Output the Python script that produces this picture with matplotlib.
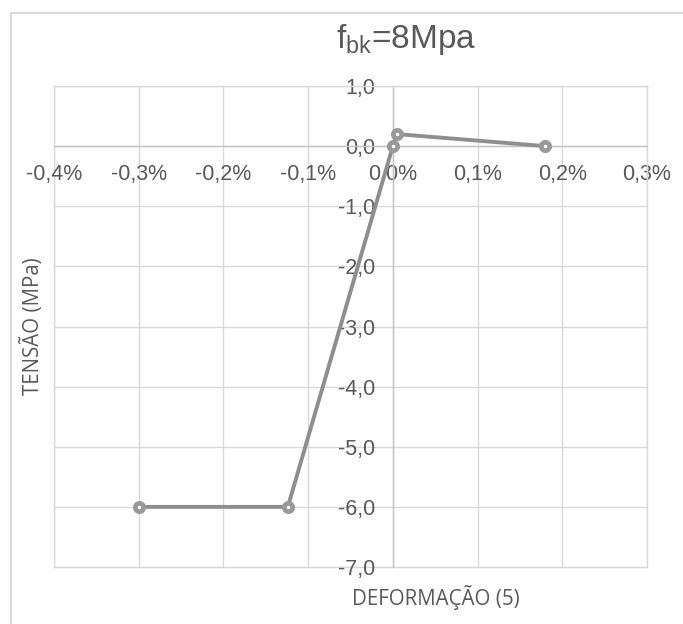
import matplotlib
matplotlib.use("Agg")
import matplotlib.pyplot as plt
from matplotlib.lines import Line2D
from matplotlib.ticker import FuncFormatter

# --------------------------
# Data (strain as fraction, stress in MPa)
# --------------------------
deformacao = [-0.0030, -0.00124, 0.0, 0.00005, 0.0018]
tensao = [-6.0, -6.0, 0.0, 0.2, 0.0]

x_ticks = [-0.004, -0.003, -0.002, -0.001, 0.0, 0.001, 0.002, 0.003]
y_ticks = [1.0, 0.0, -1.0, -2.0, -3.0, -4.0, -5.0, -6.0, -7.0]

TITLE = r"$\mathregular{f_{bk}}$=8Mpa"
XLABEL = "DEFORMAÇÃO (5)"
YLABEL = "TENSÃO (MPa)"

# --------------------------
# Styling
# --------------------------
W, H = 683, 624
GRID = "#d9d9d9"
AXIS = "#c4c4c4"
TEXT = "#595959"
SERIES = "#8e8e8e"

plt.rcParams["font.family"] = ["Liberation Sans", "DejaVu Sans"]
plt.rcParams["mathtext.default"] = "regular"


def pct_fmt(v, pos):
    if abs(v) < 1e-12:
        v = 0.0
    return f"{v * 100:.1f}%".replace(".", ",")


def num_fmt(v, pos):
    if abs(v) < 1e-12:
        v = 0.0
    return f"{v:.1f}".replace(".", ",")


fig = plt.figure(figsize=(W / 100, H / 100), dpi=100)
ax = fig.add_axes([54 / W, 1 - 567 / H, (647 - 54) / W, (567 - 86) / H])

ax.set_xlim(-0.004, 0.003)
ax.set_ylim(-7.0, 1.0)
ax.set_xticks(x_ticks)
ax.set_yticks(y_ticks)
ax.xaxis.set_major_formatter(FuncFormatter(pct_fmt))
ax.yaxis.set_major_formatter(FuncFormatter(num_fmt))

ax.grid(True, color=GRID, linewidth=1.0, zorder=0)
ax.set_axisbelow(True)

# axes crossing at the origin, like the spreadsheet chart
ax.spines["left"].set_position(("data", 0))
ax.spines["bottom"].set_position(("data", 0))
for s in ["left", "bottom"]:
    ax.spines[s].set_color(AXIS)
    ax.spines[s].set_linewidth(1.0)
for s in ["top", "right"]:
    ax.spines[s].set_color(GRID)
    ax.spines[s].set_linewidth(1.0)
# plot area outer box on left and bottom
ax.axvline(-0.004, color=GRID, linewidth=1.0, clip_on=False, zorder=0)
ax.axhline(-7.0, color=GRID, linewidth=1.0, clip_on=False, zorder=0)

ax.tick_params(axis="both", length=0, labelsize=15.5, labelcolor=TEXT)
ax.tick_params(axis="x", pad=13)
ax.tick_params(axis="y", pad=13)

ax.plot(deformacao, tensao, color=SERIES, linewidth=2.8, marker="o",
        markersize=6, markerfacecolor="white", markeredgecolor="#999999",
        markeredgewidth=3.4, zorder=5, clip_on=False)

# titles
fig.text(406 / W, 1 - 48 / H, TITLE, ha="center", va="baseline",
         fontsize=24, color=TEXT)
fig.text(436 / W, 1 - 598 / H, XLABEL, ha="center", va="center",
         fontsize=14.8, color=TEXT, family=["Open Sans", "DejaVu Sans"])
fig.text(32 / W, 1 - 326 / H, YLABEL, ha="center", va="center",
         rotation=90, fontsize=14.8, color=TEXT,
         family=["Open Sans", "DejaVu Sans"])

# chart area border (cropped on right and bottom)
fig.add_artist(Line2D([11 / W, 11 / W], [1 - 13 / H, 0], color=GRID,
                      linewidth=1.5, transform=fig.transFigure))
fig.add_artist(Line2D([11 / W, 1], [1 - 13 / H, 1 - 13 / H], color=GRID,
                      linewidth=1.5, transform=fig.transFigure))

fig.savefig("out.png", dpi=100)
